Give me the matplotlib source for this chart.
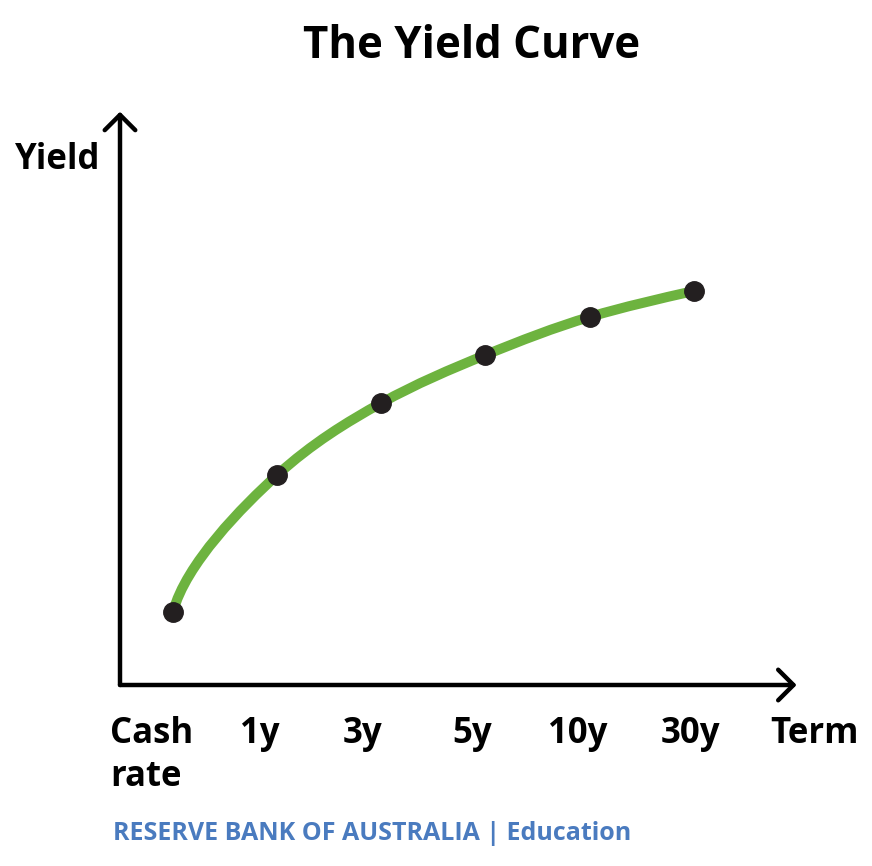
import matplotlib.pyplot as plt
import numpy as np
from matplotlib.path import Path
from matplotlib.patches import PathPatch

plt.rcParams['font.family'] = ['Open Sans', 'DejaVu Sans']

# data
terms = ['Cash\nrate', '1y', '3y', '5y', '10y', '30y']
yields = [0.73, 2.10, 2.82, 3.30, 3.68, 3.94]

GREEN = '#6db33f'
DOT = '#231f20'
BLUE = '#4a7bbf'

fig = plt.figure(figsize=(8.72, 8.66), dpi=100)
ax = fig.add_axes([120 / 872, 181 / 866, 680 / 872, 575 / 866])
ax.set_xlim(-0.509, 6.02)
ax.set_ylim(0, 5.75)
ax.axis('off')

x = np.arange(len(terms), dtype=float)
y = np.array(yields)

# smooth monotone curve through the points (PCHIP-style tangents as Bezier)
d = np.diff(y) / np.diff(x)
m = np.zeros_like(y)
m[1:-1] = 2 * d[:-1] * d[1:] / (d[:-1] + d[1:])
m[-1] = (3 * d[-1] - m[-2]) / 2
verts = [(x[0], y[0])]
codes = [Path.MOVETO]
for i in range(len(x) - 1):
    h = x[i + 1] - x[i]
    if i == 0:
        c1 = (x[0] + 0.12 * h, y[0] + 0.48)  # steep start
    else:
        c1 = (x[i] + h / 3, y[i] + m[i] * h / 3)
    c2 = (x[i + 1] - h / 3, y[i + 1] - m[i + 1] * h / 3)
    verts += [c1, c2, (x[i + 1], y[i + 1])]
    codes += [Path.CURVE4] * 3
ax.add_patch(PathPatch(Path(verts, codes), facecolor='none', edgecolor=GREEN,
                       lw=7.2, capstyle='round', zorder=2))
ax.plot(x, y, 'o', color=DOT, markersize=14, zorder=3)

# axes arrows
arrow = dict(arrowstyle='->,head_length=0.55,head_width=0.55', lw=3.2,
             color='black', mutation_scale=20, shrinkA=0, shrinkB=0)
ax.annotate('', xy=(0, 0.997), xytext=(0, 0), xycoords='axes fraction',
            arrowprops=arrow, annotation_clip=False)
ax.annotate('', xy=(0.995, 0), xytext=(0, 0), xycoords='axes fraction',
            arrowprops=arrow, annotation_clip=False)

fs = 25
label_x = [110, 260, 363, 472, 578, 690]
for lx, t in zip(label_x, terms):
    if '\n' in t:
        fig.text(lx / 872, 1 - 734 / 866, 'Cash', ha='left', va='center',
                 fontsize=fs, fontweight='bold')
        fig.text(lx / 872, 1 - 777 / 866, 'rate', ha='left', va='center',
                 fontsize=fs, fontweight='bold')
    else:
        fig.text(lx / 872, 1 - 734 / 866, t, ha='center', va='center',
                 fontsize=fs, fontweight='bold')
fig.text(814 / 872, 1 - 734 / 866, 'Term', ha='center', va='center',
         fontsize=fs, fontweight='bold')
fig.text(58 / 872, 1 - 160 / 866, 'Yield', ha='center', va='center',
         fontsize=fs, fontweight='bold')

fig.text(472 / 872, 1 - 47 / 866, 'The Yield Curve', ha='center', va='center',
         fontsize=31.5, fontweight='bold')
fig.text(113 / 872, 1 - 834 / 866, 'RESERVE BANK OF AUSTRALIA | Education',
         ha='left', va='center', fontsize=18, fontweight='bold', color=BLUE)

fig.savefig('out.png', dpi=100, facecolor='white')
